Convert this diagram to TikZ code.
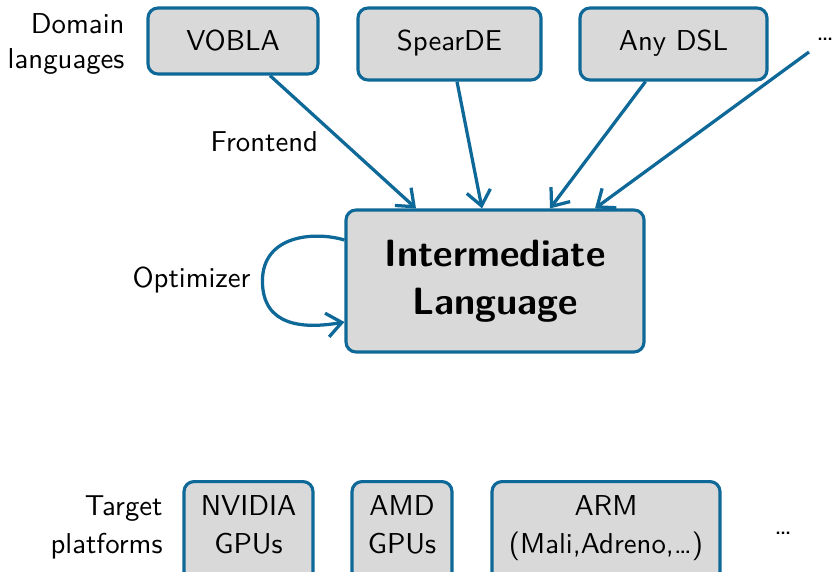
\documentclass[tikz,border=0pt]{standalone}
\usepackage{fontspec}
\setsansfont{lmsans10-regular}[Extension=.otf, BoldFont=lmsans10-bold]
\usetikzlibrary{arrows.meta,calc}
\definecolor{edgeblue}{RGB}{14,104,152}
\definecolor{boxgray}{RGB}{217,217,217}
\tikzset{
  langbox/.style={draw=edgeblue, fill=boxgray, line width=1.25pt, rounded corners=4pt,
    inner sep=0pt, anchor=base, text height=17.2pt, font=\sffamily\fontsize{11.5}{14}\selectfont},
  platbox/.style={draw=edgeblue, fill=boxgray, line width=1.25pt, rounded corners=4pt,
    inner sep=0pt, anchor=north, minimum height=48pt},
  plattext/.style={align=center, inner sep=0pt, font=\sffamily\fontsize{11.5}{15.2}\selectfont},
  caption/.style={inner sep=0pt, font=\sffamily\fontsize{11.5}{14}\selectfont},
  flow/.style={draw=edgeblue, line width=1.3pt, -{Straight Barb[length=6pt,width=9.6pt]}}
}
\begin{document}
\begin{tikzpicture}[x=0.4pt,y=-0.4pt]
\useasboundingbox (0,0) rectangle (833,572);

% domain languages
\node[langbox, minimum width=68pt, text depth=9.2pt] (vobla) at (233,51) {VOBLA};
\node[langbox, minimum width=73.2pt, text depth=11.6pt] (spearde) at (449.5,51) {SpearDE};
\node[langbox, minimum width=74.8pt, text depth=11.6pt] (anydsl) at (673.5,51) {Any DSL};
\node[caption, anchor=base] (moredsl) at (825,41) {…};
\coordinate (morefoot) at (809,52);
\node[caption, align=right, anchor=east] (domlbl) at (125,44) {Domain\\languages};

% intermediate language
\node[draw=edgeblue, fill=boxgray, line width=1.25pt, rounded corners=4pt,
  minimum width=119.2pt, minimum height=56.8pt, inner sep=0pt, align=center,
  font=\sffamily\bfseries\fontsize{15.2}{19.2}\selectfont] (il) at (495,281)
  {Intermediate\\Language};

% frontends
\draw[flow] ($(vobla.south)+(37,0)$) -- ($(il.north)+(-79,0)$);
\draw[flow] ($(spearde.south)+(7.5,0)$) -- ($(il.north)+(-13,0)$);
\draw[flow] ($(anydsl.south)+(-28,0)$) -- ($(il.north)+(55,0)$);
\draw[flow] (morefoot) -- ($(il.north)+(100,0)$);
\node[caption, anchor=base west] (frontlbl) at (210,152) {Frontend};

% optimizer loop
\draw[flow] ($(il.west)+(0,-41)$)
  .. controls ($(il.west)+(-30,-50)$) and ($(il.west)+(-82,-46)$) .. ($(il.west)+(-82,0)$)
  .. controls ($(il.west)+(-82,46)$) and ($(il.west)+(-40,48)$) .. ($(il.west)+(0,41)$);
\node[caption, anchor=base west] (optlbl) at (132,288) {Optimizer};

% target platforms
\node[platbox, minimum width=51.6pt] (nvidia) at (248.5,480) {};
\node[plattext] (nvidiatxt) at (248.5,524.5) {NVIDIA\\GPUs};
\node[platbox, minimum width=40pt] (amd) at (402,480) {};
\node[plattext] (amdtxt) at (402,524.5) {AMD\\GPUs};
\node[platbox, minimum width=91.2pt] (arm) at (606,480) {};
\node[plattext] (armtxt) at (606,528) {ARM\\(Mali,Adreno,…)};
\node[caption, anchor=base] (moreplat) at (783,534) {…};
\node[plattext, align=right, anchor=east] (platlbl) at (163,527.5) {Target\\platforms};
\end{tikzpicture}
\end{document}
